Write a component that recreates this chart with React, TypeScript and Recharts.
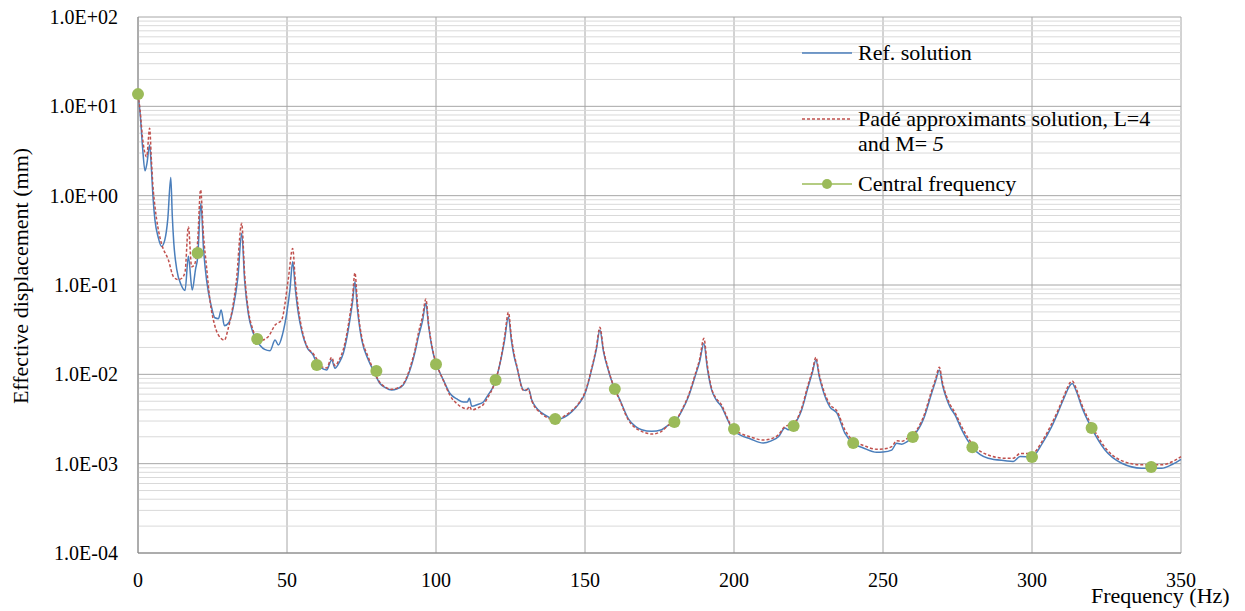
import React from 'react';
import {
  LineChart,
  Line,
  XAxis,
  YAxis,
  CartesianGrid,
  ReferenceLine,
  Legend
} from 'recharts';

// Ref. solution (blue, full line)
const refFreq = [
  0, 0.7, 1.5, 2.35, 3.0, 3.9, 4.5, 5.0, 5.7, 6.8, 7.9, 9.0, 10.0, 11.0, 11.5, 12.0, 13.0, 14.5, 15.8, 16.9,
  18.2, 19.3, 20.0, 21.1, 22.0, 23.0, 24.5, 25.8, 27.0, 27.9, 29.0, 30.5, 32.0, 33.5, 34.8, 35.8, 37.0, 38.5,
  39.8, 41.0, 42.5, 44.3, 46.0, 47.1, 48.5, 49.9, 51.0, 51.9, 52.8, 53.8, 55.0, 56.6, 58.8, 59.5, 60.5, 61.6,
  63.3, 65.0, 66.1, 67.5, 68.9, 70.2, 71.1, 72.0, 72.8, 73.6, 74.3, 75.1, 77.3, 79.0, 81.2, 83.0, 85.1, 87.0,
  89.0, 90.5, 91.8, 93.0, 94.1, 95.5, 96.6, 97.5, 98.6, 99.5, 100.5, 102.5, 104.7, 107.0, 109.2, 110.5, 111.2,
  112.0, 114.0, 115.9, 117.5, 119.2, 121.5, 123.0, 124.3, 125.3, 126.2, 127.1, 129.3, 130.2, 131.0, 132.1,
  133.5, 135.5, 138.0, 140.0, 143.0, 145.5, 148.0, 150.0, 152.2, 153.8, 155.0, 156.2, 157.8, 159.5, 161.7,
  164.5, 167.0, 169.0, 172.4, 175.7, 178.0, 180.0, 182.5, 184.7, 186.9, 188.5, 189.9, 191.0, 192.5, 194.0,
  195.9, 197.5, 199.2, 202.0, 205.4, 209.8, 212.5, 214.9, 217.1, 218.2, 220.0, 222.7, 224.9, 226.3, 227.5,
  228.6, 229.8, 232.2, 234.5, 237.2, 240.0, 243.4, 247.9, 250.0, 252.9, 254.6, 256.3, 258.0, 260.0, 263.5,
  266.3, 267.7, 268.9, 270.0, 271.2, 272.5, 274.2, 276.4, 280.0, 285.3, 291.0, 293.7, 296.0, 300.0, 303.5,
  306.6, 308.8, 310.5, 313.5, 315.0, 316.7, 320.0, 324.5, 330.1, 336.8, 343.5, 347.0, 350.0
];
const refValue = [
  13.5, 8.4, 3.6, 1.9, 2.3, 3.7, 2.0, 1.0, 0.53, 0.34, 0.27, 0.32, 0.55, 1.6, 0.6, 0.3, 0.15, 0.1, 0.087, 0.21,
  0.088, 0.15, 0.2, 0.82, 0.25, 0.114, 0.06, 0.043, 0.042, 0.0525, 0.035, 0.038, 0.057, 0.12, 0.38, 0.11, 0.048, 0.03,
  0.0242, 0.021, 0.019, 0.0184, 0.0242, 0.0213, 0.028, 0.048, 0.09, 0.182, 0.09, 0.048, 0.03, 0.0204, 0.0164, 0.0145, 0.0135, 0.0117,
  0.0112, 0.0145, 0.0117, 0.0135, 0.0172, 0.027, 0.0406, 0.065, 0.109, 0.055, 0.035, 0.0242, 0.0145, 0.011, 0.0079, 0.0071, 0.00667, 0.0069,
  0.0076, 0.0095, 0.0127, 0.018, 0.0264, 0.04, 0.0624, 0.035, 0.0204, 0.015, 0.012, 0.0086, 0.0061, 0.0053, 0.0049, 0.0049, 0.0054,
  0.0044, 0.0046, 0.0049, 0.0059, 0.0073, 0.0133, 0.024, 0.0442, 0.024, 0.016, 0.0122, 0.0067, 0.0066, 0.007, 0.0052,
  0.0043, 0.0037, 0.0033, 0.0031, 0.0033, 0.0038, 0.0047, 0.0061, 0.0112, 0.019, 0.0313, 0.018, 0.0112, 0.0075, 0.0052,
  0.0032, 0.0026, 0.0024, 0.0023, 0.0024, 0.0027, 0.0029, 0.0039, 0.0056, 0.0094, 0.014, 0.0222, 0.012, 0.0067, 0.0052,
  0.0043, 0.0033, 0.0025, 0.0021, 0.0019, 0.0017, 0.0018, 0.002, 0.0025, 0.0024, 0.0027, 0.004, 0.0073, 0.0105, 0.0145,
  0.0095, 0.0067, 0.0043, 0.0037, 0.0022, 0.0017, 0.0015, 0.00134, 0.00135, 0.00142, 0.00169, 0.00165, 0.00175, 0.002, 0.0031,
  0.0061, 0.0085, 0.0112, 0.0075, 0.0055, 0.0043, 0.0035, 0.0024, 0.00153, 0.00115, 0.00108, 0.00106, 0.0012, 0.00119, 0.0017,
  0.0026, 0.0038, 0.0052, 0.0079, 0.0063, 0.0043, 0.0025, 0.00142, 0.00101, 0.00089, 0.00089, 0.00098, 0.00112
];

// Padé approximants solution, L=4 and M=5 (red, dashed)
const padeFreq = [
  0, 0.7, 1.5, 2.9, 3.9, 4.5, 5.0, 5.7, 6.8, 7.9, 10.2, 11.9, 13.5, 14.7, 15.8, 16.9, 18.0, 19.0, 20.0, 21.0,
  22.0, 23.0, 24.2, 25.3, 27.0, 29.0, 30.2, 31.4, 33.0, 34.8, 35.8, 37.0, 38.5, 40.0, 41.5, 43.7, 46.0, 48.2,
  50.4, 51.9, 52.8, 53.8, 55.0, 56.6, 58.8, 60.5, 61.6, 63.3, 65.0, 66.1, 67.5, 68.9, 70.2, 71.1, 72.0, 72.8,
  73.6, 74.3, 75.1, 77.3, 79.0, 81.2, 83.0, 85.1, 87.0, 89.0, 90.5, 91.8, 93.0, 94.1, 95.5, 96.6, 97.5, 98.6,
  99.5, 100.5, 102.5, 104.7, 107.0, 109.2, 110.5, 111.2, 112.0, 114.0, 115.9, 117.5, 119.2, 121.5, 123.0,
  124.3, 125.3, 126.2, 127.1, 129.3, 131.0, 132.1, 135.5, 138.0, 140.0, 143.0, 145.5, 148.0, 150.0, 152.2,
  153.8, 155.0, 156.2, 157.8, 159.5, 161.7, 164.5, 167.0, 169.0, 172.4, 175.7, 178.0, 180.0, 182.5, 184.7,
  186.9, 188.5, 189.9, 191.0, 192.5, 194.0, 195.9, 197.5, 199.2, 202.0, 205.4, 209.8, 212.5, 214.9, 217.1,
  220.0, 222.7, 224.9, 226.3, 227.5, 228.6, 229.8, 232.2, 234.5, 237.2, 240.0, 243.4, 247.9, 250.0, 252.9,
  254.6, 256.3, 258.0, 260.0, 263.5, 266.3, 267.7, 268.9, 270.0, 271.2, 272.5, 274.2, 276.4, 280.0, 285.3,
  291.0, 293.7, 296.0, 300.0, 303.5, 306.6, 308.8, 310.5, 313.5, 315.0, 316.7, 320.0, 324.5, 330.1, 336.8,
  343.5, 347.0, 350.0
];
const padeValue = [
  13.5, 9.0, 4.5, 2.73, 5.68, 2.5, 1.3, 0.75, 0.42, 0.29, 0.19, 0.124, 0.115, 0.119, 0.141, 0.45, 0.16, 0.17, 0.3, 1.16,
  0.35, 0.16, 0.065, 0.0406, 0.0275, 0.0242, 0.032, 0.048, 0.11, 0.49, 0.13, 0.053, 0.032, 0.025, 0.0242, 0.0264, 0.0356, 0.0406,
  0.114, 0.257, 0.11, 0.055, 0.032, 0.021, 0.017, 0.014, 0.0122, 0.0118, 0.0155, 0.0125, 0.0145, 0.019, 0.03, 0.046, 0.075, 0.137,
  0.065, 0.038, 0.026, 0.0155, 0.0112, 0.0081, 0.0072, 0.0068, 0.007, 0.0078, 0.0099, 0.0135, 0.019, 0.029, 0.045, 0.0697, 0.037, 0.021,
  0.0155, 0.0122, 0.0085, 0.0058, 0.0047, 0.0042, 0.0041, 0.0044, 0.004, 0.0042, 0.0046, 0.0056, 0.0072, 0.0135, 0.026,
  0.0494, 0.026, 0.017, 0.0125, 0.0066, 0.0068, 0.0051, 0.0036, 0.0032, 0.0031, 0.0034, 0.0039, 0.0048, 0.0063, 0.0115,
  0.02, 0.0336, 0.019, 0.0115, 0.0075, 0.0051, 0.0031, 0.0025, 0.0023, 0.00215, 0.0023, 0.0027, 0.0029, 0.004, 0.0058,
  0.0098, 0.015, 0.0253, 0.013, 0.0069, 0.0054, 0.0045, 0.0034, 0.0026, 0.0022, 0.002, 0.00184, 0.0019, 0.0021, 0.0026,
  0.0028, 0.0042, 0.0077, 0.011, 0.0155, 0.01, 0.0071, 0.0046, 0.0039, 0.0024, 0.0018, 0.0016, 0.00145, 0.00146, 0.00155,
  0.0018, 0.00178, 0.0019, 0.0021, 0.0033, 0.0065, 0.009, 0.012, 0.008, 0.0058, 0.0046, 0.0037, 0.0026, 0.00165, 0.00125,
  0.00115, 0.00115, 0.0013, 0.0013, 0.0018, 0.0028, 0.004, 0.0055, 0.0084, 0.0067, 0.0046, 0.0027, 0.00152, 0.00108, 0.00097,
  0.00097, 0.00105, 0.0012
];

// Central frequency markers
const centralFreq = [0, 20, 40, 60, 80, 100, 120, 140, 160, 180, 200, 220, 240, 260, 280, 300, 320, 340];
const centralValue = [
  13.7, 0.228, 0.0248, 0.0127, 0.0109, 0.013, 0.00863, 0.00316, 0.00686, 0.00292, 0.00244, 0.00264,
  0.0017, 0.00199, 0.00153, 0.00119, 0.00251, 0.00092
];

const xTicks = [0, 50, 100, 150, 200, 250, 300, 350];
const yTicks = [1e-4, 1e-3, 1e-2, 1e-1, 1, 10, 100];
const minorSteps = [2, 3, 4, 5, 6, 7, 8, 9];

const refData = refFreq.map((f, i) => ({ f, v: refValue[i] }));
const padeData = padeFreq.map((f, i) => ({ f, v: padeValue[i] }));
const centralData = centralFreq.map((f, i) => ({ f, v: centralValue[i] }));
const minorGrid = yTicks.slice(0, -1).flatMap(d => minorSteps.map(k => k * d));

const FONT = "'Liberation Serif', 'Times New Roman', serif";
const BLUE = '#4a7ebb';
const RED = '#c0504d';
const GREEN = '#9bbb59';

// 1.0E+02 style labels
const formatSci = (v: number) => {
  const [m, e] = v.toExponential(1).split('e');
  const sign = e[0] === '-' ? '-' : '+';
  const digits = e.replace(/[+-]/, '').padStart(2, '0');
  return `${m}E${sign}${digits}`;
};

const ChartLegend = () => (
  <div style={{ position: 'relative', width: 420, height: 170, fontFamily: FONT, fontSize: 22, color: '#000' }}>
    <svg width={52} height={170} style={{ position: 'absolute', left: 0, top: 0 }}>
      <line x1={0} x2={50} y1={23} y2={23} stroke={BLUE} strokeWidth={1.5} />
      <line x1={0} x2={50} y1={89} y2={89} stroke={RED} strokeWidth={1.5} strokeDasharray="3 2" />
      <line x1={0} x2={50} y1={154} y2={154} stroke={GREEN} strokeWidth={1.5} />
      <circle cx={25} cy={154} r={5} fill={GREEN} />
    </svg>
    <div style={{ position: 'absolute', left: 56, top: 10, lineHeight: '25px', whiteSpace: 'nowrap' }}>
      Ref. solution
    </div>
    <div style={{ position: 'absolute', left: 56, top: 76, lineHeight: '25px', whiteSpace: 'nowrap' }}>
      Padé approximants solution, L=4
      <br />
      and M= <i>5</i>
    </div>
    <div style={{ position: 'absolute', left: 56, top: 141, lineHeight: '25px', whiteSpace: 'nowrap' }}>
      Central frequency
    </div>
  </div>
);

const App: React.FC = () => {
  return (
    <div style={{ position: 'absolute', left: 0, top: 0, width: 1245, height: 611, background: '#fff', fontFamily: FONT }}>
      <LineChart width={1245} height={611} margin={{ top: 17, right: 64, left: 0, bottom: 0 }}>
        <CartesianGrid horizontal={false} stroke="#a6a6a6" />
        {minorGrid.map(v => (
          <ReferenceLine key={`m-${v}`} y={v} stroke="#d9d9d9" strokeWidth={1} />
        ))}
        {yTicks.map(v => (
          <ReferenceLine key={`M-${v}`} y={v} stroke="#a6a6a6" strokeWidth={1} />
        ))}
        <XAxis
          dataKey="f"
          type="number"
          domain={[0, 350]}
          ticks={xTicks}
          allowDuplicatedCategory={false}
          height={58}
          tickSize={0}
          tickMargin={20}
          stroke="#868686"
          tick={{ fill: '#000', fontSize: 20, fontFamily: FONT }}
        />
        <YAxis
          dataKey="v"
          scale="log"
          domain={[1e-4, 100]}
          ticks={yTicks}
          allowDataOverflow
          width={138}
          tickSize={0}
          tickMargin={20}
          stroke="#868686"
          tickFormatter={formatSci}
          tick={{ fill: '#000', fontSize: 20, fontFamily: FONT }}
        />
        <Legend
          layout="vertical"
          align="center"
          verticalAlign="middle"
          content={<ChartLegend />}
          wrapperStyle={{ left: 802, top: 30, width: 420 }}
        />
        <Line
          data={refData}
          dataKey="v"
          type="monotone"
          stroke={BLUE}
          strokeWidth={1.5}
          dot={false}
          isAnimationActive={false}
          name="Ref. solution"
        />
        <Line
          data={padeData}
          dataKey="v"
          type="monotone"
          stroke={RED}
          strokeWidth={1.5}
          strokeDasharray="3 2"
          dot={false}
          isAnimationActive={false}
          name="Padé approximants solution, L=4 and M= 5"
        />
        <Line
          data={centralData}
          dataKey="v"
          stroke="none"
          dot={{ r: 6, fill: GREEN, stroke: 'none' }}
          activeDot={false}
          isAnimationActive={false}
          name="Central frequency"
        />
      </LineChart>
      <div
        style={{
          position: 'absolute',
          left: 21,
          top: 276,
          transform: 'translate(-50%, -50%) rotate(-90deg)',
          whiteSpace: 'nowrap',
          fontSize: 22,
          color: '#000'
        }}
      >
        Effective displacement (mm)
      </div>
      <div style={{ position: 'absolute', left: 1091, top: 583, lineHeight: '25px', fontSize: 22, color: '#000', whiteSpace: 'nowrap' }}>
        Frequency (Hz)
      </div>
    </div>
  );
};

export default App;
